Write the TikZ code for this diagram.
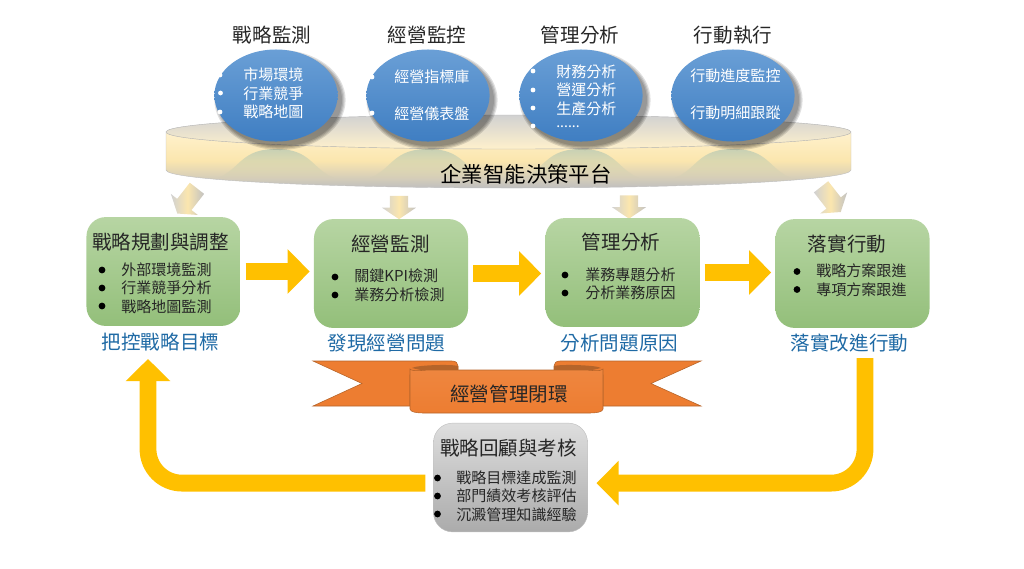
\documentclass[tikz,border=0pt]{standalone}
\usepackage{fontspec}
\setmainfont{Noto Sans CJK TC}
\usetikzlibrary{arrows.meta,shapes.geometric,shapes.arrows,fadings}
\definecolor{capblue}{HTML}{1F6AA5}
\definecolor{goldarrow}{HTML}{FFC000}
\definecolor{ribbon}{HTML}{ED7D31}
\definecolor{ribbondark}{HTML}{B5642A}
\definecolor{greentop}{HTML}{B7D5A3}
\definecolor{greenbot}{HTML}{93BF7A}
\definecolor{bluetop}{HTML}{6A9FD6}
\definecolor{bluebot}{HTML}{3F7EC2}
\definecolor{paleyellow}{HTML}{FBE6AE}
\definecolor{creamtop}{HTML}{FFF1CC}
\newcommand{\fsize}[2]{\fontsize{#1}{#2}\selectfont}
\begin{document}
\begin{tikzpicture}[x=0.025cm,y=-0.025cm,
  greenbox/.style={rounded corners=0.48cm,minimum width=3.85cm,minimum height=2.72cm,draw=none,top color=greentop,bottom color=greenbot},
  greybox/.style={rounded corners=0.48cm,minimum width=3.85cm,minimum height=2.72cm,draw=black!25,line width=0.3pt,top color=black!13,bottom color=black!33},
  blueell/.style={ellipse,minimum width=3.08cm,minimum height=2.3cm,inner sep=0pt,top color=bluetop,bottom color=bluebot},
  bluetxt/.style={text=white,font=\fsize{10.7}{13.2},align=left,anchor=west,inner sep=0pt},
  whitedot/.style={circle,fill=white,minimum size=0.12cm,inner sep=0pt},
  blackdot/.style={circle,fill=black,minimum size=0.17cm,inner sep=0pt},
  head/.style={font=\fsize{13.9}{16},text=black!85,inner sep=0pt},
  caption/.style={font=\fsize{13.9}{16},text=capblue,inner sep=0pt},
  itemtxt/.style={font=\fsize{10.7}{13.2},text=black!85,align=left,anchor=west,inner sep=0pt},
  goldline/.style={draw=goldarrow,line width=0.42cm,-{Triangle[length=0.55cm,width=1.08cm]}},
  downarrow/.style={single arrow,draw=none,inner xsep=0pt,inner ysep=0.22cm,single arrow head extend=0.2cm,single arrow tip angle=112,left color=black!18,right color=black!24,middle color=paleyellow}]
  \useasboundingbox (0,0) rectangle (1024,568);

  % Platform
  \shade[draw=black!25,line width=0.3pt,top color=creamtop,bottom color=black!25,middle color=paleyellow]
    (166,133) -- (166,170) .. controls (166,180) and (324,188) .. (512,188)
    .. controls (700,188) and (851,180) .. (851,170) -- (851,133) -- cycle;
  \node[ellipse,minimum width=17.125cm,minimum height=0.85cm,inner sep=0pt,draw=black!30,line width=0.3pt,top color=black!18,bottom color=creamtop] (disc) at (508.5,132) {};
  \foreach \cx in {276,428,581,733}{
    \fill[green!25!black!30!white,opacity=0.7,path fading=south] (\cx-58,178) .. controls (\cx-35,168) and (\cx-35,149) .. (\cx,149) .. controls (\cx+35,149) and (\cx+35,168) .. (\cx+58,178) -- cycle;
    \foreach \k in {0.1,0.07,0.04,0.01}{
      \fill[black,opacity=0.12] (\cx+4,100) ellipse [x radius=1.54cm+\k cm,y radius=1.15cm+\k cm];
    }
  }
  \node[font=\fsize{15.2}{17},text=black,inner sep=0pt] (platform) at (526,174) {企業智能決策平台};

  % Blue ellipses
  \node[blueell] (mon) at (276,95.5) {};
  \node[blueell] (ctl) at (428,95.5) {};
  \node[blueell] (ana) at (581,95.5) {};
  \node[blueell] (act) at (733,95.5) {};

  \node[head] (t1) at (272,35) {戰略監測};
  \node[head] (t2) at (427,35) {經營監控};
  \node[head] (t3) at (580,35) {管理分析};
  \node[head] (t4) at (733,35) {行動執行};

  \node[bluetxt] (montxt) at (243,93.5) {市場環境\\行業競爭\\戰略地圖};
  \node[bluetxt] (ctltxt1) at (394,77) {經營指標庫};
  \node[bluetxt] (ctltxt2) at (394,114) {經營儀表盤};
  \node[bluetxt] (anatxt) at (556,90) {財務分析\\營運分析\\生產分析};
  \node[bluetxt,font=\fsize{10}{11}] (anadots) at (556,127) {......};
  \node[bluetxt] (acttxt1) at (690,76) {行動進度監控};
  \node[bluetxt] (acttxt2) at (690,113) {行動明細跟蹤};

  \node[whitedot] (d1) at (220,75) {};
  \node[whitedot] (d2) at (220.5,93) {};
  \node[whitedot] (d3) at (220,112) {};
  \node[whitedot] (d4) at (372,77) {};
  \node[whitedot] (d5) at (372,113) {};
  \node[whitedot] (d6) at (533,71) {};
  \node[whitedot] (d7) at (533,90) {};
  \node[whitedot] (d8) at (533,108) {};
  \node[whitedot] (d9) at (533,126) {};

  % Small arrows
  \node[downarrow,minimum height=0.8cm,rotate=232] (s1) at (189,198.5) {};
  \node[downarrow,minimum height=0.58cm,rotate=-90] (s2) at (399,204.5) {};
  \node[downarrow,minimum height=0.58cm,rotate=-90] (s3) at (629,204) {};
  \node[downarrow,minimum height=0.8cm,rotate=-52] (s4) at (829,197) {};

  % Green boxes
  \node[greenbox] (plan) at (163.5,271.5) {};
  \node[greenbox] (watch) at (391,273.5) {};
  \node[greenbox] (study) at (622.5,272.5) {};
  \node[greenbox] (doit) at (852.5,273.5) {};

  \node[head] (plant) at (160.5,242) {戰略規劃與調整};
  \node[head] (watcht) at (390.5,244) {經營監測};
  \node[head] (studyt) at (621,242) {管理分析};
  \node[head] (doitt) at (847,244) {落實行動};

  \node[itemtxt] (planl) at (121,288) {外部環境監測\\行業競爭分析\\戰略地圖監測};
  \node[blackdot] (b1) at (102,270) {};
  \node[blackdot] (b2) at (102,288) {};
  \node[blackdot] (b3) at (102,306) {};
  \node[itemtxt] (watchl) at (354,285.5) {關鍵KPI檢測\\業務分析檢測};
  \node[blackdot] (b4) at (335,277) {};
  \node[blackdot] (b5) at (335,295) {};
  \node[itemtxt] (studyl) at (585,284) {業務專題分析\\分析業務原因};
  \node[blackdot] (b6) at (565,275) {};
  \node[blackdot] (b7) at (565,293) {};
  \node[itemtxt] (doitl) at (816,280) {戰略方案跟進\\專項方案跟進};
  \node[blackdot] (b8) at (797,271.5) {};
  \node[blackdot] (b9) at (797,289.5) {};

  \node[caption] (c1) at (160.5,342) {把控戰略目標};
  \node[caption] (c2) at (386.5,343) {發現經營問題};
  \node[caption] (c3) at (619.5,343) {分析問題原因};
  \node[caption] (c4) at (849.5,343) {落實改進行動};

  % Ribbon
  \fill[ribbon,draw=ribbondark,line width=0.4pt] (313,361) -- (452,361) .. controls (456,361) and (458,363) .. (458,366) -- (458,375) -- (410,375) -- (410,406) -- (313,406) -- (362,383.5) -- cycle;
  \fill[ribbon,draw=ribbondark,line width=0.4pt] (701,361) -- (560,361) .. controls (556,361) and (554,363) .. (554,366) -- (554,375) -- (603,375) -- (603,406) -- (701,406) -- (651,383.5) -- cycle;
  \fill[ribbondark] (412,368) .. controls (416,365) and (452,364) .. (458,366) -- (458,371) -- (425,371) -- cycle;
  \fill[ribbondark] (601,368) .. controls (597,365) and (560,364) .. (554,366) -- (554,371) -- (588,371) -- cycle;
  \shade[draw=ribbondark,line width=0.4pt,top color=ribbon!93!white,bottom color=ribbon]
    (410,369) .. controls (412,372) and (424,370) .. (430,370) -- (584,370) .. controls (590,370) and (601,372) .. (603,369)
    -- (603,409) .. controls (603,412) and (596,413) .. (590,413) -- (423,413) .. controls (417,413) and (410,412) .. (410,409) -- cycle;
  \node[font=\fsize{13.9}{16},text=black!85,inner sep=0pt] (banner) at (509,394) {經營管理閉環};

  % Review box
  \node[greybox] (review) at (510.5,477.5) {};
  \node[head] (reviewt) at (508.5,448) {戰略回顧與考核};
  \node[itemtxt] (reviewl) at (456,496) {戰略目標達成監測\\部門績效考核評估\\沉澱管理知識經驗};
  \node[blackdot] (b10) at (437.5,478) {};
  \node[blackdot] (b11) at (437.5,496) {};
  \node[blackdot] (b12) at (437.5,514) {};

  % Connectors
  \coordinate (r0) at (865,358);
  \coordinate (l0) at (148,359);
  \draw[goldline,shorten <=0.12cm,shorten >=0.1cm] (plan.east) -- (watch.west |- plan.east);
  \draw[goldline,shorten <=0.12cm,shorten >=0.1cm] (watch.east) -- (study.west |- watch.east);
  \draw[goldline,shorten <=0.12cm,shorten >=0.1cm] (study.east) -- (doit.west |- study.east);
  \draw[goldline,rounded corners=0.85cm] (r0) |- ([xshift=0.22cm,yshift=-0.14cm]review.east);
  \draw[goldline,rounded corners=0.85cm] ([xshift=-0.2cm,yshift=-0.14cm]review.west) -| (l0);
\end{tikzpicture}
\end{document}
